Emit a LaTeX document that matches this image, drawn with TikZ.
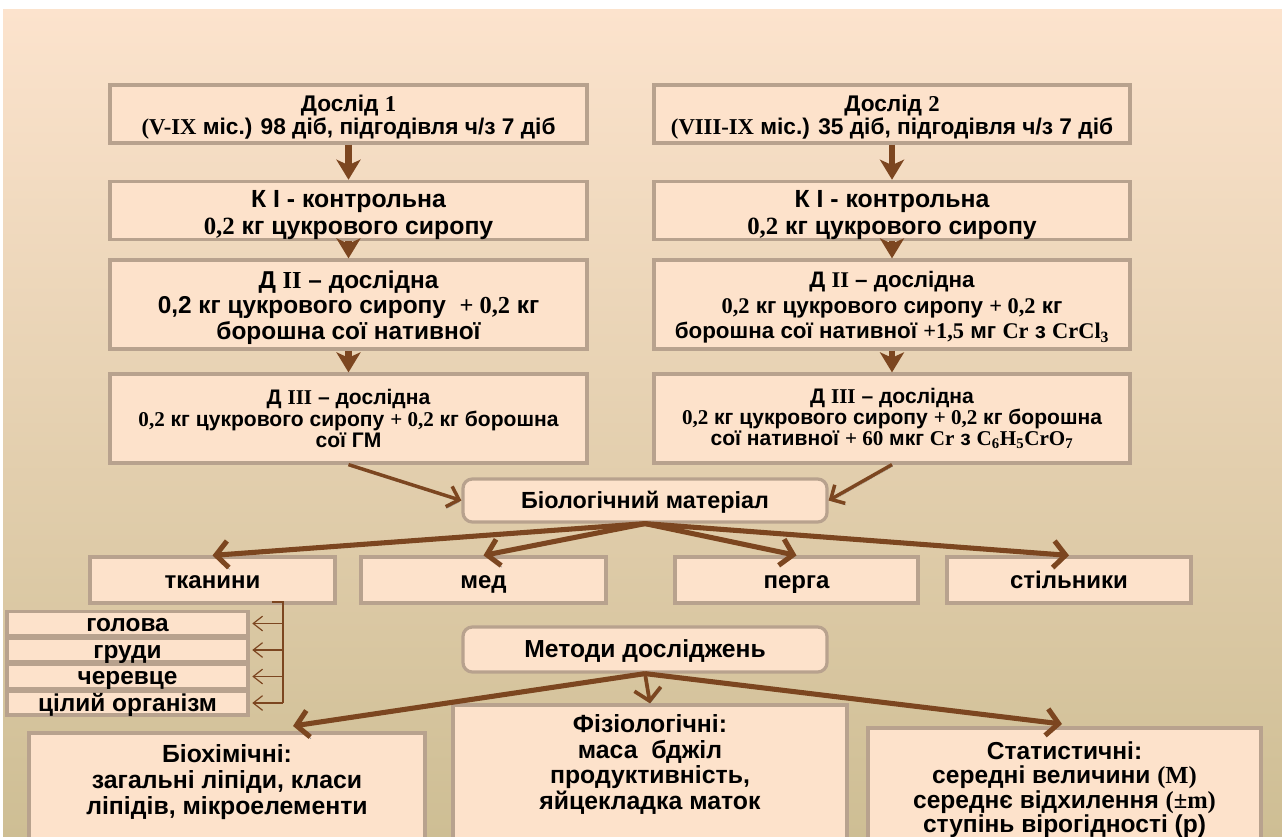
\documentclass[tikz,border=0pt]{standalone}
\usepackage{fontspec}
\setmainfont{Liberation Sans}
\newfontfamily\tnr{Liberation Serif}
\usetikzlibrary{arrows.meta,calc}
\definecolor{boxfill}{RGB}{253,226,203}
\definecolor{boxline}{RGB}{184,162,142}
\definecolor{arr}{RGB}{124,70,32}
\definecolor{bgtop}{RGB}{252,227,205}
\definecolor{bgmid}{RGB}{240,232,213}
\definecolor{bgbot}{RGB}{206,190,148}
\newcommand{\topgap}[1]{\rule{0pt}{#1}}
\tikzset{
  box/.style={draw=boxline, line width=2.4pt, fill=boxfill, inner sep=0pt, align=center},
  rbox/.style={box, rounded corners=7pt},
  one/.style={text height=12.5pt, text depth=0.5pt},
  txt/.style={inner sep=0pt, align=center},
  fA/.style={font=\fontsize{17}{17.25}\selectfont\bfseries},
  fB/.style={font=\fontsize{18.6}{20.25}\selectfont\bfseries},
  fC/.style={font=\fontsize{18.3}{18.9}\selectfont\bfseries},
  fCr/.style={font=\fontsize{16.8}{19.2}\selectfont\bfseries},
  fD/.style={font=\fontsize{15.8}{16}\selectfont\bfseries},
  fE/.style={font=\fontsize{17.5}{18}\selectfont\bfseries},
  fF/.style={font=\fontsize{18.3}{18}\selectfont\bfseries},
  fG/.style={font=\fontsize{18}{19.5}\selectfont\bfseries},
  fM/.style={font=\fontsize{18.5}{19.5}\selectfont\bfseries},
  shadowed/.style={preaction={draw=black!45, dash pattern=on 0.7pt off 0.7pt, transform canvas={shift={(0.6pt,-1.3pt)}}}},
  downarr/.style={draw=arr, line width=4.6pt, -{Stealth[length=15pt,width=18pt,inset=4pt]}},
  bigarr/.style={draw=arr, line width=3.8pt, shadowed, -{Straight Barb[length=9pt,width=20pt]}},
  midarr/.style={draw=arr, line width=2.6pt, shadowed, -{Straight Barb[length=8pt,width=16pt]}},
  thinarr/.style={draw=arr, line width=0.9pt, -{Straight Barb[length=7pt,width=11pt]}},
  thinline/.style={draw=arr, line width=0.9pt},
}
\begin{document}
\begin{tikzpicture}[x=0.75pt,y=-0.75pt]
\useasboundingbox (0,0) rectangle (1282,836);
\clip (0,0) rectangle (1282,836);
\fill[white] (0,0) rectangle (1282,836);
\shade[top color=bgtop, middle color=bgmid, bottom color=bgbot] (3,9) rectangle (1282,836);

% --- column 1
\node[box, fA, minimum width=357.75pt, minimum height=43.5pt] (d1) at (348.5,114)
  {\topgap{17pt}Дослід {\tnr 1}\\{\tnr (V-IX} міс.) 98 діб, підгодівля ч/з 7 діб};
\node[box, fB, minimum width=357.75pt, minimum height=42.75pt] (k1) at (348.5,210.5)
  {\topgap{19.6pt}К І - контрольна\\{\tnr 0,2} кг цукрового сиропу};
\node[box, fC, minimum width=357.75pt, minimum height=66.75pt] (a2) at (348.5,304.5)
  {\topgap{18pt}Д {\tnr II} – дослідна\\0,2 кг цукрового сиропу~~{\tnr + 0,2} кг\\борошна сої нативної};
\node[box, fD, minimum width=357.75pt, minimum height=66.75pt] (a3) at (348.5,418.5)
  {Д {\tnr III} – дослідна\\{\tnr 0,2} кг цукрового сиропу {\tnr + 0,2} кг борошна\\сої ГМ};

% --- column 2
\node[box, fA, minimum width=357pt, minimum height=43.5pt] (d2) at (892,114)
  {\topgap{17pt}Дослід {\tnr 2}\\{\tnr (VIII-IX} міс.) 35 діб, підгодівля ч/з 7 діб};
\node[box, fB, minimum width=357pt, minimum height=42.75pt] (k2) at (892,210.5)
  {\topgap{19.6pt}К І - контрольна\\{\tnr 0,2} кг цукрового сиропу};
\node[box, fCr, minimum width=357pt, minimum height=66.75pt] (b2) at (892,304.5)
  {\topgap{16.8pt}Д {\tnr II} – дослідна\\{\tnr 0,2} кг цукрового сиропу {\tnr + 0,2} кг\\борошна сої нативної {\tnr +1,5} мг {\tnr Cr} з {\tnr CrCl\textsubscript{3}}};
\node[box, fD, minimum width=357pt, minimum height=66.75pt] (b3) at (892,418.5)
  {Д {\tnr III} – дослідна\\{\tnr 0,2} кг цукрового сиропу {\tnr + 0,2} кг борошна\\сої нативної {\tnr + 60} мкг {\tnr Cr} з {\tnr C\textsubscript{6}H\textsubscript{5}CrO\textsubscript{7}}};

\draw[downarr] (d1.south) -- (k1.north);
\draw[downarr] (k1.south) -- (a2.north);
\draw[downarr] (a2.south) -- (a3.north);
\draw[downarr] (d2.south) -- (k2.north);
\draw[downarr] (k2.south) -- (b2.north);
\draw[downarr] (b2.south) -- (b3.north);

% --- biological material
\node[rbox, fE, one, minimum width=273pt, minimum height=32.25pt] (bm) at (645,500.5) {Біологічний матеріал};
\draw[midarr] (a3.south) -- (bm.west);
\draw[midarr] (b3.south) -- (bm.east);

\node[box, fG, one, minimum width=183.75pt, minimum height=34.5pt] (tk) at (212.5,580) {тканини};
\node[box, fG, one, minimum width=183.75pt, minimum height=34.5pt] (med) at (483.5,580) {мед};
\node[box, fG, one, minimum width=182.25pt, minimum height=34.5pt] (pg) at (796.5,580) {перга};
\node[box, fG, one, minimum width=183pt, minimum height=34.5pt] (st) at (1069,580) {стільники};

\draw[bigarr] (bm.south) -- (tk.north);
\draw[bigarr] (bm.south) -- (med.north);
\draw[bigarr] (bm.south) -- (pg.north);
\draw[bigarr] (bm.south) -- (st.north);

% --- tissues
\node[box, fF, one, minimum width=180.75pt, minimum height=18pt] (g1) at (127.5,623.5) {голова};
\node[box, fF, one, minimum width=180.75pt, minimum height=18pt] (g2) at (127.5,650) {груди};
\node[box, fF, one, minimum width=180.75pt, minimum height=18pt] (g3) at (127.5,676.5) {черевце};
\node[box, fF, one, minimum width=180.75pt, minimum height=18pt] (g4) at (127.5,703) {цілий організм};
\coordinate (brtop) at (283,602);
\coordinate (brstub) at (272,602);
\coordinate (brbot) at (283,703);
\draw[thinline] (brstub) -- (brtop) -- (brbot);
\draw[thinarr] (g1.east -| brtop) -- ([xshift=2pt]g1.east);
\draw[thinarr] (g2.east -| brtop) -- ([xshift=2pt]g2.east);
\draw[thinarr] (g3.east -| brtop) -- ([xshift=2pt]g3.east);
\draw[thinarr] (g4.east -| brtop) -- ([xshift=2pt]g4.east);

% --- methods
\node[rbox, fM, one, minimum width=273pt, minimum height=33.75pt] (mt) at (645,649.5) {Методи досліджень};

\node[box, minimum width=297pt, minimum height=95.25pt] (bio) at (227,796.5) {};
\node[box, minimum width=295.5pt, minimum height=116.25pt] (phy) at (650,782.5) {};
\node[box, minimum width=294.75pt, minimum height=99pt] (sta) at (1064.5,794) {};

\node[txt, font=\fontsize{18.6}{19.5}\selectfont\bfseries] (biot) at (227,782.5)
  {Біохімічні:\\загальні ліпіди, класи\\ліпідів, мікроелементи};
\node[txt, font=\fontsize{18.6}{19.3}\selectfont\bfseries] (phyt) at (650,764.5)
  {Фізіологічні:\\маса~~бджіл\\продуктивність,\\яйцекладка маток};
\node[txt, font=\fontsize{18.4}{18.3}\selectfont\bfseries] (stat) at (1064.5,789.5)
  {Статистичні:\\середні величини {\tnr (M)}\\середнє відхилення {\tnr (±m)}\\ступінь вірогідності (р)};

\coordinate (tipbio) at (293,726);
\coordinate (tipsta) at (1062,724);
\draw[bigarr] (mt.south) -- (tipbio);
\draw[bigarr, line width=2.8pt] (mt.south) -- (phy.north);
\draw[bigarr] (mt.south) -- (tipsta);
\end{tikzpicture}
\end{document}
